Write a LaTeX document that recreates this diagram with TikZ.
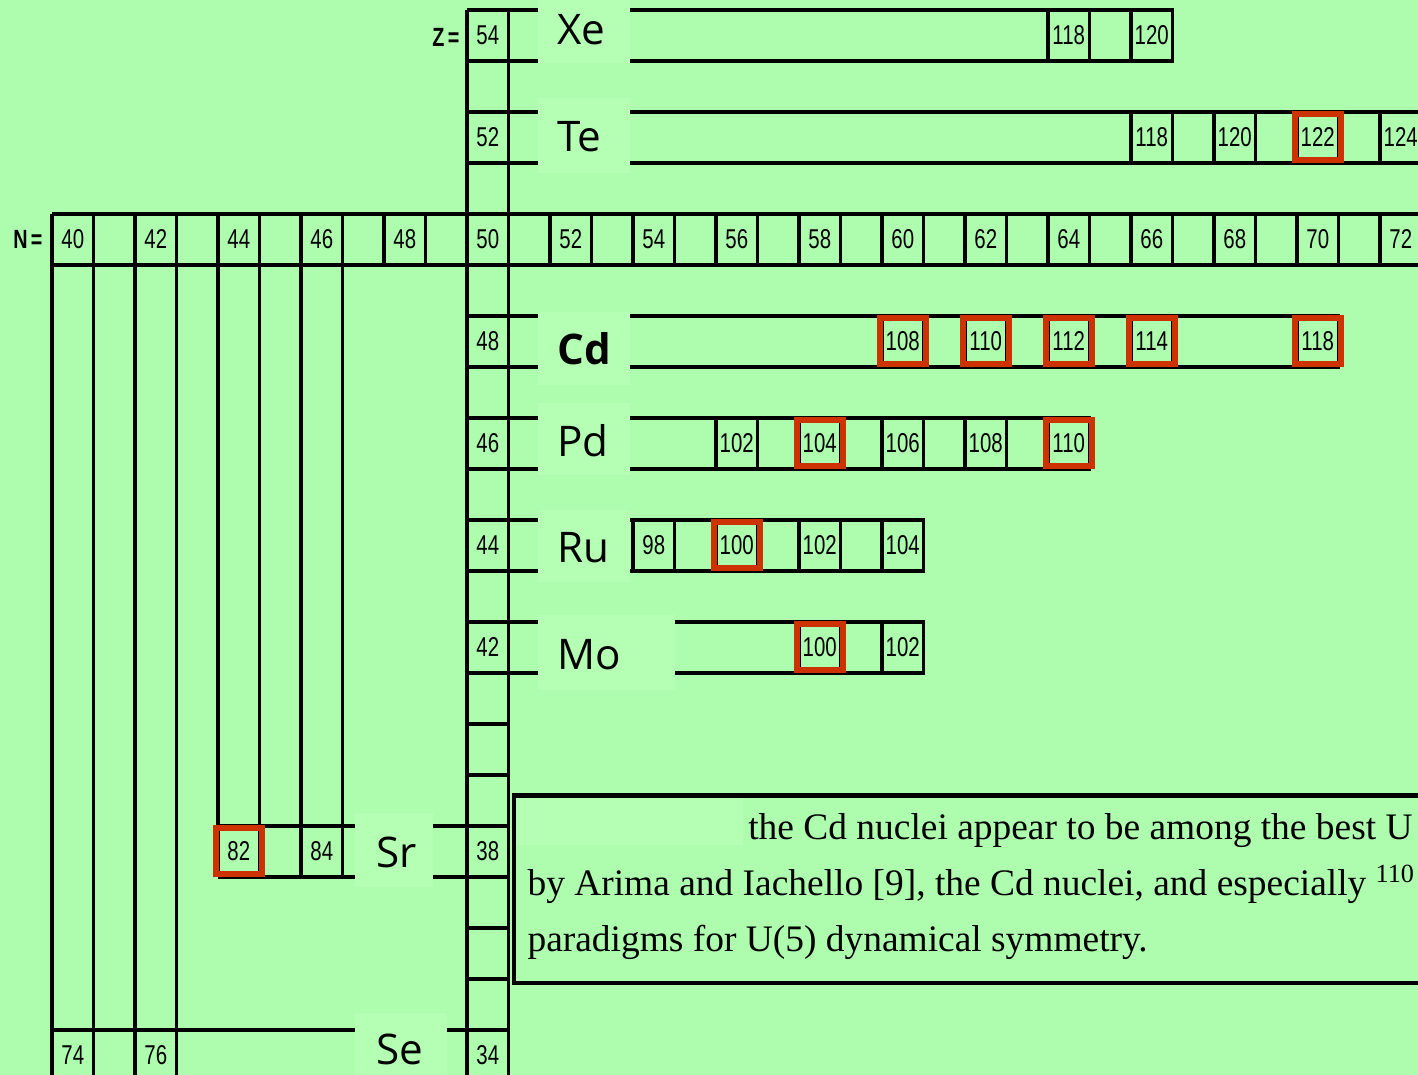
\documentclass[tikz,border=0pt]{standalone}
\usepackage{fontspec}
\setmainfont{Liberation Serif}
\newfontfamily\labelfont{Open Sans}
\newfontfamily\numfont{Liberation Sans}
\usetikzlibrary{positioning}

\definecolor{sheet}{RGB}{174,253,174}
\definecolor{paper}{RGB}{180,255,180}
\definecolor{hilite}{RGB}{204,51,0}

% narrow digits as in the printed chart
\newcommand{\cellnum}[1]{\scalebox{0.75}[1]{#1}}

\begin{document}
\begin{tikzpicture}[x=0.83cm, y=1.02cm,
    grid/.style={line width=1.9pt},
    num/.style={font=\numfont\fontsize{15.5}{15.5}\selectfont, inner sep=0pt},
    hot/.style={draw=hilite, line width=3.4pt, minimum width=0.92cm, minimum height=0.92cm},
    cover/.style={fill=paper, draw=none},
    elem/.style={font=\labelfont\fontsize{24}{24}\selectfont, anchor=west, inner sep=0pt},
    prose/.style={font=\fontsize{21.3}{30}\selectfont, anchor=base west, inner sep=0pt}]
  % cell (N,Z) is centred on (N,Z)
  \fill[sheet] (38.247,33.618) rectangle (72.416,54.696);
  \useasboundingbox (38.247,33.618) rectangle (72.416,54.696);
  \clip (38.247,33.618) rectangle (72.416,54.696);

  % Z column
  \draw[grid] (49.5,33) -- (49.5,54.5) (50.5,33) -- (50.5,54.5);
  \foreach \z in {33,...,54} \draw[grid] (49.5,\z+0.5) -- (50.5,\z+0.5);

  % N row
  \draw[grid] (39.5,49.5) -- (73,49.5) (39.5,50.5) -- (73,50.5);
  \foreach \n in {39,...,72} \draw[grid] (\n+0.5,49.5) -- (\n+0.5,50.5);

  % columns running down from the N row
  \foreach \x in {39.5,40.5,41.5,42.5} \draw[grid] (\x,49.5) -- (\x,33);
  \foreach \x in {43.5,44.5,45.5,46.5} \draw[grid] (\x,49.5) -- (\x,37.5);

  % Sr and Se rows
  \draw[grid] (43.5,38.5) -- (49.5,38.5) (43.5,37.5) -- (49.5,37.5);
  \draw[grid] (39.5,34.5) -- (49.5,34.5);

  % Xe
  \draw[grid] (50.5,53.5) rectangle (66.5,54.5);
  \foreach \x in {63.5,64.5,65.5} \draw[grid] (\x,53.5) -- (\x,54.5);
  % Te
  \draw[grid] (50.5,51.5) -- (73,51.5) (50.5,52.5) -- (73,52.5);
  \foreach \x in {65.5,66.5,...,72.5} \draw[grid] (\x,51.5) -- (\x,52.5);
  % Cd
  \draw[grid] (50.5,47.5) rectangle (70.5,48.5);
  \foreach \x in {59.5,60.5,...,66.5,69.5} \draw[grid] (\x,47.5) -- (\x,48.5);
  % Pd
  \draw[grid] (50.5,45.5) rectangle (64.5,46.5);
  \foreach \x in {55.5,56.5,...,63.5} \draw[grid] (\x,45.5) -- (\x,46.5);
  % Ru
  \draw[grid] (50.5,43.5) rectangle (60.5,44.5);
  \foreach \x in {53.5,54.5,...,59.5} \draw[grid] (\x,43.5) -- (\x,44.5);
  % Mo
  \draw[grid] (50.5,41.5) rectangle (60.5,42.5);
  \foreach \x in {57.5,58.5,59.5} \draw[grid] (\x,41.5) -- (\x,42.5);

  % light patches behind the element names
  \fill[cover] (51.21,53.46) rectangle (53.43,54.8);
  \fill[cover] (51.21,51.30) rectangle (53.43,52.77);
  \fill[cover] (51.21,47.15) rectangle (53.43,48.58);
  \fill[cover] (51.21,45.38) rectangle (53.43,46.79);
  \fill[cover] (51.21,43.28) rectangle (53.43,44.70);
  \fill[cover] (51.21,41.17) rectangle (54.51,42.64);
  \fill[cover] (46.80,37.30) rectangle (48.68,38.75);
  \fill[cover] (46.80,33.50) rectangle (49.02,34.83);

  % axis labels
  \node[num, font=\numfont\bfseries\fontsize{15}{15}\selectfont] (nlab) at (38.92,50) {\cellnum{N\,=}};
  \node[num, font=\numfont\bfseries\fontsize{15}{15}\selectfont] (zlab) at (48.99,53.97) {\cellnum{Z\,=}};
  \foreach \z in {54,52,48,46,44,42,38,34} \node[num] (z\z) at (50,\z) {\cellnum{\z}};
  \foreach \n in {40,42,...,72} \node[num] (n\n) at (\n,50) {\cellnum{\n}};

  % isotopes: plain cells
  \foreach \n/\z/\a in {64/54/118, 66/54/120, 66/52/118, 68/52/120, 72/52/124,
      60/46/106, 62/46/108, 56/46/102, 54/44/98, 60/44/104, 58/44/102,
      60/42/102, 46/38/84, 40/34/74, 42/34/76}
    \node[num] (a\a z\z) at (\n,\z) {\cellnum{\a}};
  % isotopes: marked cells
  \foreach \n/\z/\a in {70/52/122, 60/48/108, 62/48/110, 64/48/112, 66/48/114,
      70/48/118, 58/46/104, 64/46/110, 56/44/100, 58/42/100, 44/38/82}
    \node[num, hot] (a\a z\z) at (\n,\z) {\cellnum{\a}};

  % element names
  \node[elem] (xe) at (51.67,54.11) {Xe};
  \node[elem] (te) at (51.67,52.01) {Te};
  \node[elem, font=\labelfont\bfseries\fontsize{24}{24}\selectfont] (cd) at (51.67,47.85) {Cd};
  \node[elem] (pd) at (51.67,46.05) {Pd};
  \node[elem] (ru) at (51.67,43.95) {Ru};
  \node[elem] (mo) at (51.67,41.85) {Mo};
  \node[elem] (sr) at (47.31,37.99) {Sr};
  \node[elem] (se) at (47.31,34.11) {Se};

  % quoted passage
  \fill[cover] (50.69,38.13) rectangle (56.15,39.04);
  \draw[line width=2.6pt] (50.63,39.10) rectangle (73,35.42);
  \node[prose] (lineA) at (56.27,38.225) {the Cd nuclei appear to be among the best U};
  \node[prose] (lineB) at (50.95,37.127) {by Arima and Iachello [9], the Cd nuclei, and especially \textsuperscript{110}};
  \node[prose] (lineC) at (50.95,36.029) {paradigms for U(5) dynamical symmetry.};
\end{tikzpicture}
\end{document}
